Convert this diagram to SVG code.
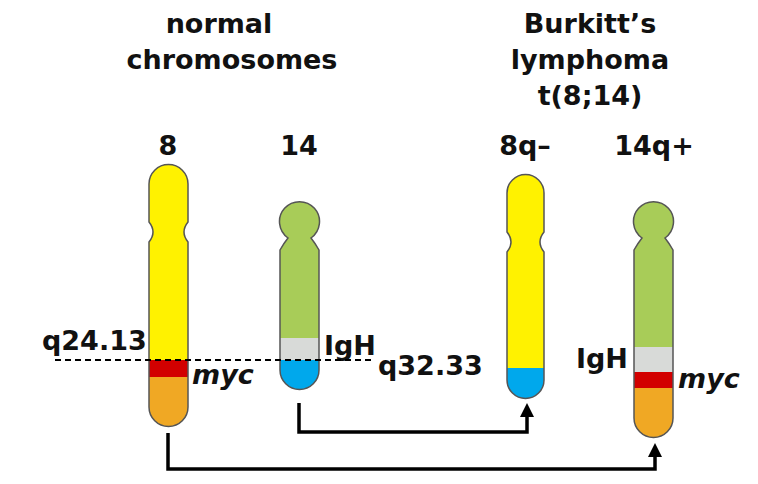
<svg xmlns="http://www.w3.org/2000/svg" width="758" height="484" viewBox="0 0 758 484">
<style>
text{font-family:"DejaVu Sans","Liberation Sans",sans-serif;font-weight:bold;font-size:27px;fill:#111}
.m{text-anchor:middle}
.i{font-style:italic}
.o{fill:none;stroke:#555;stroke-width:1.5}
.c{fill:none;stroke:#000;stroke-width:3.5}
</style>
<defs>
<path id="p8" d="M149,184 A19.5,19.5 0 0 1 188,184 L188,222 Q180,232 188,242 L188,407 A19.5,19.5 0 0 1 149,407 L149,242 Q157,232 149,222 Z"/>
<path id="p14" d="M288,238 A20,20 0 1 1 311,238 Q315,243 319,250 L319,370 A19.5,19.5 0 0 1 280,370 L280,250 Q284,243 288,238 Z"/>
<path id="p8q" d="M507,193 A18.5,18.5 0 0 1 544,193 L544,232 Q536,242 544,252 L544,380 A18.5,18.5 0 0 1 507,380 L507,252 Q515,242 507,232 Z"/>
<path id="p14q" d="M642,238 A20,20 0 1 1 665,238 Q669,243 673,250 L673,418 A19.5,19.5 0 0 1 634,418 L634,250 Q638,243 642,238 Z"/>
<clipPath id="k8"><use href="#p8"/></clipPath>
<clipPath id="k14"><use href="#p14"/></clipPath>
<clipPath id="k8q"><use href="#p8q"/></clipPath>
<clipPath id="k14q"><use href="#p14q"/></clipPath>
<marker id="a" markerWidth="4" markerHeight="4" refX="2" refY="2" orient="auto" markerUnits="strokeWidth"><path d="M0,0 L4,2 L0,4 Z" fill="#000"/></marker>
</defs>
<g id="titles">
<text class="m" x="219" y="33">normal</text>
<text class="m" x="232" y="69">chromosomes</text>
<text class="m" x="590" y="33">Burkitt’s</text>
<text class="m" x="590" y="69">lymphoma</text>
<text class="m" x="590" y="105">t(8;14)</text>
</g>
<g id="chr8">
<g clip-path="url(#k8)"><rect x="140" y="160" width="60" height="200" fill="#fff200"/><rect x="140" y="360" width="60" height="17" fill="#d20000"/><rect x="140" y="377" width="60" height="60" fill="#f0a824"/></g>
<use href="#p8" class="o"/>
<text class="m" x="168" y="155">8</text>
</g>
<g id="chr14">
<g clip-path="url(#k14)"><rect x="270" y="200" width="60" height="138" fill="#a8cc58"/><rect x="270" y="338" width="60" height="22" fill="#d8dad8"/><rect x="270" y="360" width="60" height="40" fill="#00a8ec"/></g>
<use href="#p14" class="o"/>
<text class="m" x="299" y="155">14</text>
</g>
<g id="chr8q">
<g clip-path="url(#k8q)"><rect x="500" y="170" width="60" height="198" fill="#fff200"/><rect x="500" y="368" width="60" height="40" fill="#00a8ec"/></g>
<use href="#p8q" class="o"/>
<text class="m" x="525" y="155">8q–</text>
</g>
<g id="chr14q">
<g clip-path="url(#k14q)"><rect x="625" y="200" width="60" height="147" fill="#a8cc58"/><rect x="625" y="347" width="60" height="25" fill="#d8dad8"/><rect x="625" y="372" width="60" height="16" fill="#d20000"/><rect x="625" y="388" width="60" height="60" fill="#f0a824"/></g>
<use href="#p14q" class="o"/>
<text class="m" x="654" y="155">14q+</text>
</g>
<g id="labels">
<text x="42" y="350">q24.13</text>
<text class="i" x="192" y="384">myc</text>
<text x="324" y="355">IgH</text>
<text x="378" y="375">q32.33</text>
<text x="576" y="368">IgH</text>
<text class="i" x="678" y="388">myc</text>
</g>
<g id="connectors">
<line x1="55" y1="360" x2="375" y2="360" stroke="#000" stroke-width="2" stroke-dasharray="6,4"/>
<path class="c" d="M299,403 V432 H527 V410" marker-end="url(#a)"/>
<path class="c" d="M168,433 V469 H655 V450" marker-end="url(#a)"/>
</g>
</svg>
